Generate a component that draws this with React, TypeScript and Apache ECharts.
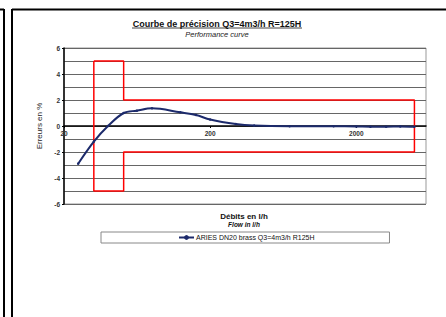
import React, { useEffect, useRef } from "react";
import * as echarts from "echarts";

const flows = [25, 32, 40, 51.2, 63, 80, 125, 160, 200, 300, 400, 700, 1400, 2000, 2500, 3200, 4000, 5000];
const errors = [-2.9, -1.2, 0.0, 1.0, 1.18, 1.36, 1.05, 0.85, 0.5, 0.15, 0.03, -0.02, -0.02, -0.03, -0.05, -0.05, -0.03, -0.05];
const limitFlows = [32, 51.2, 51.2, 5000, 5000, 51.2, 51.2, 32, 32];
const limitErrors = [5, 5, 2, 2, -2, -2, -5, -5, 5];
const xTickLabels = [20, 200, 2000];
const seriesName = "ARIES DN20 brass Q3=4m3/h R125H";
const titleText = "Courbe de précision Q3=4m3/h R=125H";
const subTitleText = "Performance curve";
const yTitle = "Erreurs en %";
const xTitle = "Débits en l/h";
const xSubTitle = "Flow in l/h";

const FONT = "Liberation Sans, Arial, sans-serif";

export default function App() {
  const ref = useRef<HTMLDivElement>(null);
  useEffect(() => {
    if (!ref.current) return;
    const chart = echarts.init(ref.current, undefined, { renderer: "svg" });
    chart.setOption({
      animation: false,
      backgroundColor: "#ffffff",
      textStyle: { fontFamily: FONT },
      grid: { left: 64, top: 48, right: 20, bottom: 113, show: true, borderColor: "#999", borderWidth: 1, backgroundColor: "transparent" },
      xAxis: {
        type: "log",
        logBase: 10,
        min: 20,
        max: 6000,
        offset: -78,
        axisLine: { onZero: false, lineStyle: { color: "#000", width: 1.5 } },
        axisTick: { show: true, customValues: xTickLabels, length: 2, inside: false, lineStyle: { color: "#000" } },
        axisLabel: {
          customValues: xTickLabels,
          formatter: (v: number) => String(Math.round(v)),
          fontSize: 6.5,
          fontWeight: "bold",
          color: "#333",
          margin: 4,
          fontFamily: FONT,
        },
        splitLine: { show: false },
        minorTick: { show: false },
      },
      yAxis: {
        type: "value",
        min: -6,
        max: 6,
        interval: 2,
        name: yTitle,
        nameLocation: "middle",
        nameGap: 20,
        nameRotate: 90,
        nameTextStyle: { fontSize: 8, color: "#222", fontFamily: FONT },
        axisLine: { show: true, onZero: false, lineStyle: { color: "#000", width: 1.5 } },
        axisTick: { show: true, length: 2, lineStyle: { color: "#000" } },
        axisLabel: { fontSize: 6.5, fontWeight: "bold", color: "#333", margin: 4, fontFamily: FONT },
        splitLine: { show: true, lineStyle: { color: "#666", width: 1 } },
        minorTick: { show: false, splitNumber: 2 },
        minorSplitLine: { show: true, lineStyle: { color: "#666", width: 1 } },
      },
      legend: {
        data: [seriesName],
        left: 101,
        top: 232,
        orient: "horizontal",
        padding: [2, 75, 2, 77],
        borderColor: "#888",
        borderWidth: 1,
        itemWidth: 15,
        itemHeight: 6,
        itemGap: 2,
        textStyle: { fontSize: 7, color: "#111", fontFamily: FONT, padding: [0, 0, 0, -3] },
      },
      series: [
        {
          name: "limits",
          type: "line",
          data: limitFlows.map((f, i) => [f, limitErrors[i]]),
          symbol: "none",
          lineStyle: { color: "#ff0000", width: 1.5 },
          itemStyle: { color: "#ff0000" },
          silent: true,
          z: 3,
        },
        {
          name: seriesName,
          type: "line",
          data: flows.map((f, i) => [f, errors[i]]),
          smooth: 0.35,
          symbol: "circle",
          symbolSize: 2.5,
          lineStyle: { color: "#1c2a6b", width: 2 },
          itemStyle: { color: "#1c2a6b" },
          z: 4,
        },
      ],
      graphic: [
        { type: "line", shape: { x1: 4, y1: 9, x2: 4, y2: 317 }, style: { stroke: "#000", lineWidth: 2 } },
        { type: "line", shape: { x1: 0, y1: 9.5, x2: 4, y2: 9.5 }, style: { stroke: "#000", lineWidth: 2 } },
        { type: "line", shape: { x1: 12, y1: 9.5, x2: 446, y2: 9.5 }, style: { stroke: "#000", lineWidth: 2 } },
        { type: "line", shape: { x1: 12, y1: 9, x2: 12, y2: 317 }, style: { stroke: "#000", lineWidth: 2 } },
        {
          type: "text",
          x: 217,
          y: 24,
          style: { text: titleText, font: `bold 9px ${FONT}`, fill: "#111", textAlign: "center", textVerticalAlign: "middle" },
        },
        { type: "line", shape: { x1: 132, y1: 28, x2: 302, y2: 28 }, style: { stroke: "#111", lineWidth: 0.8 } },
        {
          type: "text",
          x: 217,
          y: 34,
          style: { text: subTitleText, font: `italic 7.5px ${FONT}`, fill: "#222", textAlign: "center", textVerticalAlign: "middle" },
        },
        {
          type: "text",
          x: 244,
          y: 216,
          style: { text: xTitle, font: `bold 8px ${FONT}`, fill: "#111", textAlign: "center", textVerticalAlign: "middle" },
        },
        {
          type: "text",
          x: 244,
          y: 224,
          style: { text: xSubTitle, font: `italic bold 6.5px ${FONT}`, fill: "#111", textAlign: "center", textVerticalAlign: "middle" },
        },
      ],
    });
    return () => chart.dispose();
  }, []);
  return <div ref={ref} style={{ position: "fixed", left: 0, top: 0, width: 446, height: 317 }} />;
}
